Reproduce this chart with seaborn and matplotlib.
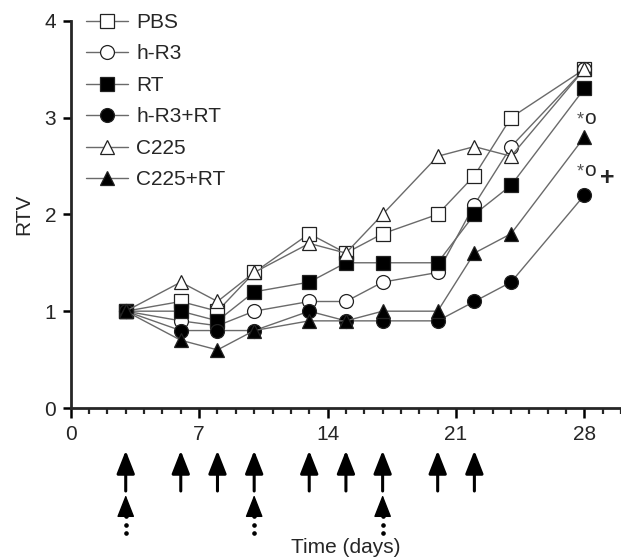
import numpy as np
import pandas as pd
import matplotlib
matplotlib.use("Agg")
import matplotlib.pyplot as plt
import seaborn as sns
from matplotlib.ticker import MultipleLocator, FixedLocator

# --- data ---
days = [3, 6, 8, 10, 13, 15, 17, 20, 22, 24, 28]
pbs     = [1.0, 1.1, 1.0, 1.4, 1.8, 1.6, 1.8, 2.0, 2.4, 3.0, 3.5]
hr3     = [1.0, 0.9, 0.85, 1.0, 1.1, 1.1, 1.3, 1.4, 2.1, 2.7, 3.5]
rt      = [1.0, 1.0, 0.9, 1.2, 1.3, 1.5, 1.5, 1.5, 2.0, 2.3, 3.3]
hr3_rt  = [1.0, 0.8, 0.8, 0.8, 1.0, 0.9, 0.9, 0.9, 1.1, 1.3, 2.2]
c225    = [1.0, 1.3, 1.1, 1.4, 1.7, 1.6, 2.0, 2.6, 2.7, 2.6, 3.5]
c225_rt = [1.0, 0.7, 0.6, 0.8, 0.9, 0.9, 1.0, 1.0, 1.6, 1.8, 2.8]

groups = ["PBS", "h-R3", "RT", "h-R3+RT", "C225", "C225+RT"]
values = [pbs, hr3, rt, hr3_rt, c225, c225_rt]
markers = ["s", "o", "s", "o", "^", "^"]
faces = ["white", "white", "black", "black", "white", "black"]

rt_days = [3, 6, 8, 10, 13, 15, 17, 20, 22]     # solid arrows
drug_days = [3, 10, 17]                          # dotted arrows

df = pd.concat(
    [pd.DataFrame({"day": days, "rtv": v, "group": g}) for g, v in zip(groups, values)],
    ignore_index=True,
)

sns.set_style("ticks")
plt.rcParams["font.family"] = ["Liberation Sans", "DejaVu Sans"]
FS = 15

fig = plt.figure(figsize=(6.21, 5.57), dpi=100)
ax = fig.add_axes([0.1138, 0.2675, 0.8865, 0.6953])

for g, m, fc in zip(groups, markers, faces):
    sns.lineplot(
        data=df[df["group"] == g], x="day", y="rtv", ax=ax,
        color="#6a6a6a", lw=1.0, marker=m, ms=10,
        markerfacecolor=fc, markeredgecolor="#222222", markeredgewidth=0.9,
        label=g, clip_on=False,
    )

ax.set_xlim(0, 30)
ax.set_ylim(0, 4)
ax.xaxis.set_major_locator(FixedLocator([0, 7, 14, 21, 28]))
ax.xaxis.set_minor_locator(MultipleLocator(1))
ax.yaxis.set_major_locator(MultipleLocator(1))
sns.despine(ax=ax)
for s in ["left", "bottom"]:
    ax.spines[s].set_linewidth(2.0)
ax.tick_params(axis="both", which="major", direction="out", length=5.5, width=1.8,
               labelsize=FS, pad=5, color="black")
ax.tick_params(axis="x", which="major", length=7)
ax.tick_params(axis="x", which="minor", direction="out", length=4.5, width=1.6)

ax.set_ylabel("RTV", fontsize=FS, labelpad=8)
ax.set_xlabel("Time (days)", fontsize=FS, va="center")
ax.xaxis.set_label_coords(0.5, -0.36)

leg = ax.legend(loc="upper left", bbox_to_anchor=(0.028, 1.02), frameon=False,
                fontsize=FS, handlelength=2.0, handletextpad=0.4,
                labelspacing=0.6, borderaxespad=0, borderpad=0)

# significance marks at day 28
for y in [2.93, 2.395]:
    ax.text(27.97, y, "*", fontsize=13, color="#555555", ha="right", va="baseline")
    ax.text(27.97, y, "o", fontsize=FS, ha="left", va="baseline")
ax.text(29.25, 2.30, "+", fontsize=18, fontweight="bold", ha="center", va="baseline")

# treatment arrows under the axis
tr = ax.get_xaxis_transform()
for d in rt_days:
    ax.annotate("", xy=(d, -0.110), xytext=(d, -0.2143), xycoords=tr, textcoords=tr,
                arrowprops=dict(arrowstyle="-|>,head_length=1.4,head_width=0.55",
                                lw=2.2, color="black", shrinkA=0, shrinkB=0),
                annotation_clip=False)
dot_y = np.linspace(-0.280, -0.323, 3)
for d in drug_days:
    ax.annotate("", xy=(d, -0.2246), xytext=(d, -0.2725), xycoords=tr, textcoords=tr,
                arrowprops=dict(arrowstyle="-|>,head_length=1.4,head_width=0.55",
                                lw=1.0, color="black", shrinkA=0, shrinkB=0),
                annotation_clip=False)
    ax.plot([d] * len(dot_y), dot_y, transform=tr, linestyle="none", marker="o",
            ms=2.3, color="black", clip_on=False)

plt.savefig("out.png", dpi=100)
plt.close()
